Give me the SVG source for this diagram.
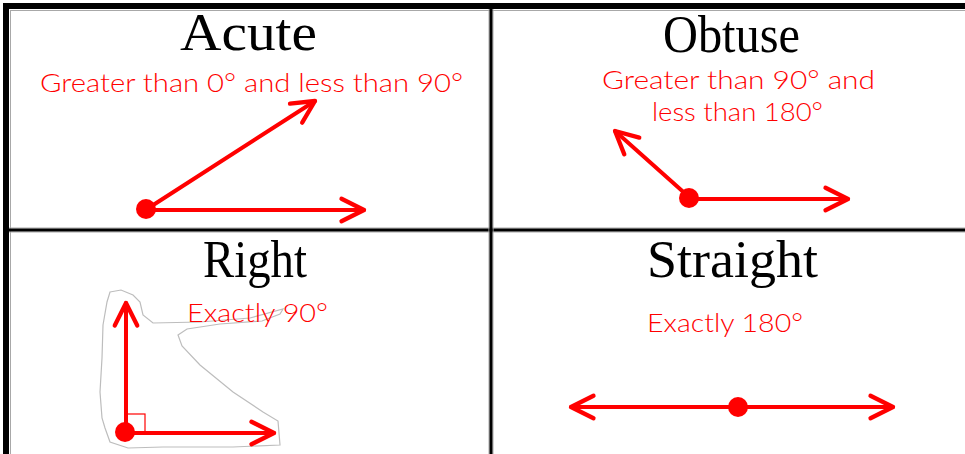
<svg xmlns="http://www.w3.org/2000/svg" width="965" height="454" viewBox="0 0 965 454">
  <style>
    .title { font-family: "Liberation Serif", "DejaVu Serif", serif; font-size: 52px; fill: #000; }
    .desc { font-family: "Lato", "Liberation Sans", sans-serif; font-weight: 300; font-size: 26px; fill: #ff0000; }
    .ray { stroke: #ff0000; stroke-width: 4; fill: none; stroke-linecap: round; }
    .vertex { fill: #ff0000; }
    .grid { stroke: #000; fill: none; }
    .halo { stroke: #a8a8a8; stroke-width: 1; fill: none; }
    .sel { stroke: #bdbdbd; stroke-width: 1.2; fill: none; }
  </style>
  <defs>
    <marker id="open" markerUnits="userSpaceOnUse" markerWidth="30" markerHeight="30" refX="0" refY="0" viewBox="-24 -14 28 28" orient="auto-start-reverse" overflow="visible">
      <path d="M -21 -10.5 L 0 0 L -21 10.5" stroke="#ff0000" stroke-width="4" fill="none" stroke-linecap="round" stroke-linejoin="round"/>
    </marker>
  </defs>
  <rect width="965" height="454" fill="#fff"/>

  <g id="frame">
    <line class="halo" x1="10.5" y1="10" x2="10.5" y2="454"/>
    <line class="halo" x1="10" y1="10.5" x2="965" y2="10.5"/>
    <line class="grid" stroke-width="6" x1="6" y1="6" x2="965" y2="6"/>
    <line class="grid" stroke-width="6" x1="6" y1="3" x2="6" y2="454"/>
    <line class="halo" x1="9" y1="228" x2="965" y2="228"/>
    <line class="halo" x1="9" y1="232" x2="965" y2="232"/>
    <line class="grid" stroke-width="3" x1="9" y1="230" x2="965" y2="230"/>
    <line class="halo" x1="489" y1="9" x2="489" y2="454"/>
    <line class="halo" x1="493" y1="9" x2="493" y2="454"/>
    <line class="grid" stroke-width="3" x1="491" y1="9" x2="491" y2="454"/>
  </g>

  <g id="acute">
    <text class="title" x="180" y="50" textLength="137" lengthAdjust="spacingAndGlyphs">Acute</text>
    <text class="desc" x="40" y="92" textLength="423" lengthAdjust="spacingAndGlyphs">Greater than 0° and less than 90°</text>
    <line class="ray" x1="147" y1="209" x2="315" y2="101" marker-end="url(#open)"/>
    <line class="ray" x1="147" y1="210" x2="364" y2="210" marker-end="url(#open)"/>
    <circle class="vertex" cx="146" cy="209" r="10"/>
  </g>

  <g id="obtuse">
    <text class="title" x="663" y="52" textLength="137" lengthAdjust="spacingAndGlyphs">Obtuse</text>
    <text class="desc" x="602" y="89" textLength="273" lengthAdjust="spacingAndGlyphs">Greater than 90° and</text>
    <text class="desc" x="652" y="121" textLength="171" lengthAdjust="spacingAndGlyphs">less than 180°</text>
    <line class="ray" x1="689" y1="197" x2="615" y2="131" marker-end="url(#open)"/>
    <line class="ray" x1="689" y1="199" x2="848" y2="199" marker-end="url(#open)"/>
    <circle class="vertex" cx="689" cy="198" r="10"/>
  </g>

  <g id="right">
    <path class="sel" d="M110 292 L121 290 L133 295 L140 302 L143 315 L153 323 L200 322 L250 318 L283 309 L280 314 L262 321 L220 324 L187 329 L178 335 L182 346 L200 365 L233 392 L263 412 L278 421 L280 445 L233 447 L200 447 L163 447 L128 448 L110 442 L105 428 L102 418 L100 392 L102 358 L103 325 L107 302 Z"/>
    <text class="title" x="203" y="277" textLength="104" lengthAdjust="spacingAndGlyphs">Right</text>
    <text class="desc" x="187" y="322" textLength="141" lengthAdjust="spacingAndGlyphs">Exactly 90°</text>
    <rect x="127" y="414" width="18" height="18" fill="none" stroke="#ff0000" stroke-width="1.2"/>
    <line class="ray" x1="126" y1="432" x2="126" y2="303" marker-end="url(#open)"/>
    <line class="ray" x1="126" y1="433" x2="274" y2="433" marker-end="url(#open)"/>
    <circle class="vertex" cx="125" cy="432" r="10"/>
  </g>

  <g id="straight">
    <text class="title" x="647" y="277" textLength="171" lengthAdjust="spacingAndGlyphs">Straight</text>
    <text class="desc" x="647" y="332" font-size="28" textLength="156" lengthAdjust="spacingAndGlyphs">Exactly 180°</text>
    <line class="ray" x1="571" y1="407" x2="893" y2="407" marker-start="url(#open)" marker-end="url(#open)"/>
    <circle class="vertex" cx="738" cy="407" r="10"/>
  </g>
</svg>
